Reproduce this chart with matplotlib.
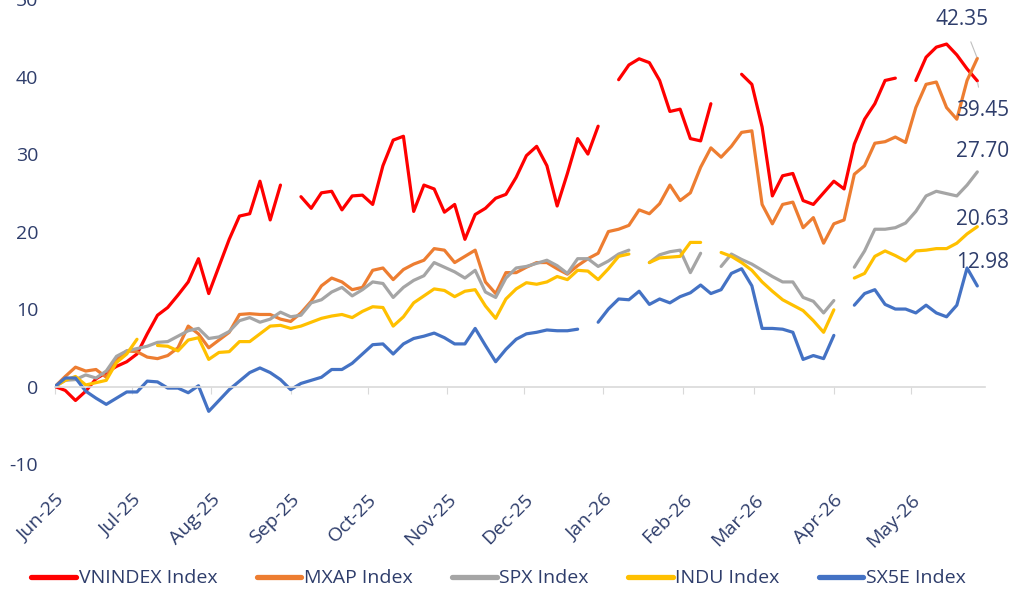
"""Hiệu suất các chỉ số (%), Jun-25 -> May-26."""
import numpy as np
import pandas as pd
import matplotlib
matplotlib.use("Agg")
import matplotlib.pyplot as plt
import matplotlib.dates as mdates

nan = np.nan

# du lieu doc tu hinh, moi diem cach nhau 4 ngay ke tu 01/06/2025
dates = pd.date_range("2025-06-01", periods=91, freq="4D")

vnindex = [0, -0.5, -1.8, -0.6, 1.0, 1.8, 2.6, 3.2, 4.2, 6.8,
           9.2, 10.2, 11.8, 13.5, 16.5, 12.0, 15.5, 19.0, 22.0, 22.3,
           26.5, 21.5, 26.0, nan, 24.5, 23.0, 25.0, 25.2, 22.8, 24.6,
           24.7, 23.5, 28.5, 31.8, 32.3, 22.6, 26.0, 25.5, 22.5, 23.5,
           19.0, 22.2, 23.0, 24.3, 24.8, 27.0, 29.8, 31.0, 28.5, 23.3,
           27.5, 32.0, 30.0, 33.6, nan, 39.6, 41.5, 42.3, 41.8, 39.5,
           35.5, 35.8, 32.0, 31.7, 36.5, nan, nan, 40.3, 39.0, 33.5,
           24.6, 27.2, 27.5, 24.0, 23.5, 25.0, 26.5, 25.5, 31.3, 34.5,
           36.5, 39.5, 39.8, nan, 39.5, 42.5, 43.8, 44.2, 42.8, 41.0,
           39.45]

mxap = [0, 1.3, 2.5, 2.0, 2.2, 1.2, 3.5, 4.6, 4.5, 3.8,
        3.6, 4.0, 5.0, 7.8, 6.8, 5.0, 6.0, 7.0, 9.3, 9.4,
        9.3, 9.3, 8.7, 8.4, 9.5, 11.0, 13.0, 14.0, 13.5, 12.5,
        12.8, 15.0, 15.3, 13.8, 15.1, 15.8, 16.3, 17.8, 17.6, 16.0,
        16.8, 17.6, 13.5, 12.0, 14.7, 14.7, 15.4, 16.0, 16.0, 15.2,
        14.5, 15.6, 16.5, 17.2, 20.0, 20.3, 20.8, 22.8, 22.3, 23.6,
        26.0, 24.0, 25.0, 28.3, 30.8, 29.6, 31.0, 32.8, 33.0, 23.5,
        21.0, 23.5, 23.8, 20.5, 21.8, 18.5, 21.0, 21.5, 27.4, 28.5,
        31.4, 31.6, 32.2, 31.5, 36.0, 39.0, 39.3, 36.0, 34.5, 39.5,
        42.35]

spx = [0, 0.8, 0.9, 1.5, 1.1, 2.0, 3.9, 4.6, 4.9, 5.2,
       5.7, 5.8, 6.5, 7.2, 7.5, 6.2, 6.4, 7.1, 8.5, 8.9,
       8.3, 8.7, 9.6, 9.0, 9.2, 10.8, 11.2, 12.2, 12.8, 11.7,
       12.5, 13.5, 13.3, 11.5, 12.8, 13.7, 14.3, 16.0, 15.4, 14.8,
       14.0, 15.0, 12.2, 11.5, 14.0, 15.3, 15.5, 15.9, 16.3, 15.6,
       14.6, 16.5, 16.5, 15.5, 16.2, 17.1, 17.6, nan, 16.0, 17.0,
       17.4, 17.6, 14.7, 17.2, nan, 15.5, 17.1, 16.4, 15.8, 15.0,
       14.2, 13.5, 13.5, 11.5, 11.0, 9.5, 11.1, nan, 15.4, 17.5,
       20.3, 20.3, 20.5, 21.1, 22.6, 24.6, 25.2, 24.9, 24.6, 26.0,
       27.70]

indu = [0, 0.8, 1.3, 0.2, 0.5, 0.8, 3.1, 4.2, 6.1, nan,
        5.3, 5.2, 4.6, 6.0, 6.3, 3.5, 4.4, 4.5, 5.8, 5.8,
        6.8, 7.8, 7.9, 7.5, 7.8, 8.3, 8.8, 9.1, 9.3, 8.9,
        9.7, 10.3, 10.2, 7.8, 9.0, 10.8, 11.7, 12.6, 12.4, 11.6,
        12.3, 12.5, 10.4, 8.8, 11.3, 12.6, 13.4, 13.2, 13.5, 14.2,
        13.8, 15.0, 14.9, 13.8, 15.2, 16.8, 17.1, nan, 16.0, 16.6,
        16.7, 16.8, 18.6, 18.6, nan, 17.3, 16.8, 16.0, 15.0, 13.5,
        12.3, 11.2, 10.5, 9.8, 8.5, 7.0, 9.9, nan, 14.0, 14.6,
        16.8, 17.5, 16.9, 16.2, 17.5, 17.6, 17.8, 17.8, 18.5, 19.7,
        20.63]

sx5e = [0, 1.1, 1.1, -0.6, -1.5, -2.3, -1.5, -0.7, -0.7, 0.7,
        0.6, -0.2, -0.2, -0.8, 0.1, -3.2, -1.8, -0.4, 0.7, 1.8,
        2.4, 1.8, 0.9, -0.4, 0.4, 0.8, 1.2, 2.2, 2.2, 3.0,
        4.2, 5.4, 5.5, 4.2, 5.5, 6.2, 6.5, 6.9, 6.3, 5.5,
        5.5, 7.5, 5.3, 3.2, 4.8, 6.1, 6.8, 7.0, 7.3, 7.2,
        7.2, 7.4, nan, 8.3, 10.0, 11.3, 11.2, 12.3, 10.6, 11.3,
        10.8, 11.6, 12.1, 13.1, 12.0, 12.5, 14.6, 15.2, 13.0, 7.5,
        7.5, 7.4, 7.0, 3.5, 4.0, 3.6, 6.6, nan, 10.5, 12.0,
        12.5, 10.6, 10.0, 10.0, 9.5, 10.5, 9.5, 9.0, 10.5, 15.3,
        12.98]

series = [
    ("VNINDEX Index", vnindex, "#FF0000"),
    ("MXAP Index", mxap, "#ED7D31"),
    ("SPX Index", spx, "#A5A5A5"),
    ("INDU Index", indu, "#FFC000"),
    ("SX5E Index", sx5e, "#4472C4"),
]

# nhan cuoi duong: (gia tri, do lech chu theo point, co duong dan hay khong)
end_labels = [
    (mxap[-1], (-11, 28), True),
    (vnindex[-1], (4, -21), True),
    (spx[-1], (4, 15), False),
    (indu[-1], (4, 5), False),
    (sx5e[-1], (4, 17), False),
]

txt = "#2E3D6B"
plt.rcParams["font.family"] = ["Open Sans", "DejaVu Sans"]
plt.rcParams["axes.unicode_minus"] = False

fig = plt.figure(figsize=(10.18, 5.93), dpi=100)
ax = fig.add_axes([55 / 1018, 0.2175, 930 / 1018, 0.784])

for name, vals, col in series:
    ax.plot(dates, vals, color=col, lw=2.3, label=name, solid_capstyle="round")

ax.set_ylim(-10, 50)
ax.set_xlim(pd.Timestamp("2025-06-01"), pd.Timestamp("2026-05-30"))
ax.set_yticks(np.arange(-10, 51, 10))

for sp in ["top", "right", "left"]:
    ax.spines[sp].set_visible(False)
ax.spines["bottom"].set_position(("data", 0))
ax.spines["bottom"].set_color("#D9D9D9")
ax.spines["bottom"].set_linewidth(1.2)
ax.set_axisbelow(True)

ax.xaxis.set_major_locator(mdates.MonthLocator())
ax.xaxis.set_major_formatter(mdates.DateFormatter("%b-%y"))
ax.tick_params(axis="x", length=5, color="#D9D9D9", pad=70,
               labelsize=14, labelcolor=txt)
ax.tick_params(axis="y", length=0, pad=12, labelsize=14, labelcolor=txt)
for lab in ax.get_xticklabels():
    lab.set_rotation(45)
    lab.set_ha("right")
    lab.set_va("top")
    lab.set_rotation_mode("anchor")
    lab.set_x(lab.get_position()[0])

for val, off, lead in end_labels:
    ax.annotate(f"{val:.2f}", xy=(dates[-1], val), xytext=off,
                textcoords="offset points", ha="center", va="center",
                fontsize=15, color=txt, annotation_clip=False,
                arrowprops=dict(arrowstyle="-", color="#BFBFBF", lw=0.8,
                                shrinkA=7, shrinkB=1) if lead else None)

fig.legend(loc="lower center", bbox_to_anchor=(0.49, -0.02), ncol=5,
           frameon=False, fontsize=14, handlelength=2.3, handletextpad=0.15,
           columnspacing=2.0, labelcolor=txt)
for h in fig.legends[0].get_lines():
    h.set_linewidth(3.8)

fig.savefig("out.png", dpi=100)
